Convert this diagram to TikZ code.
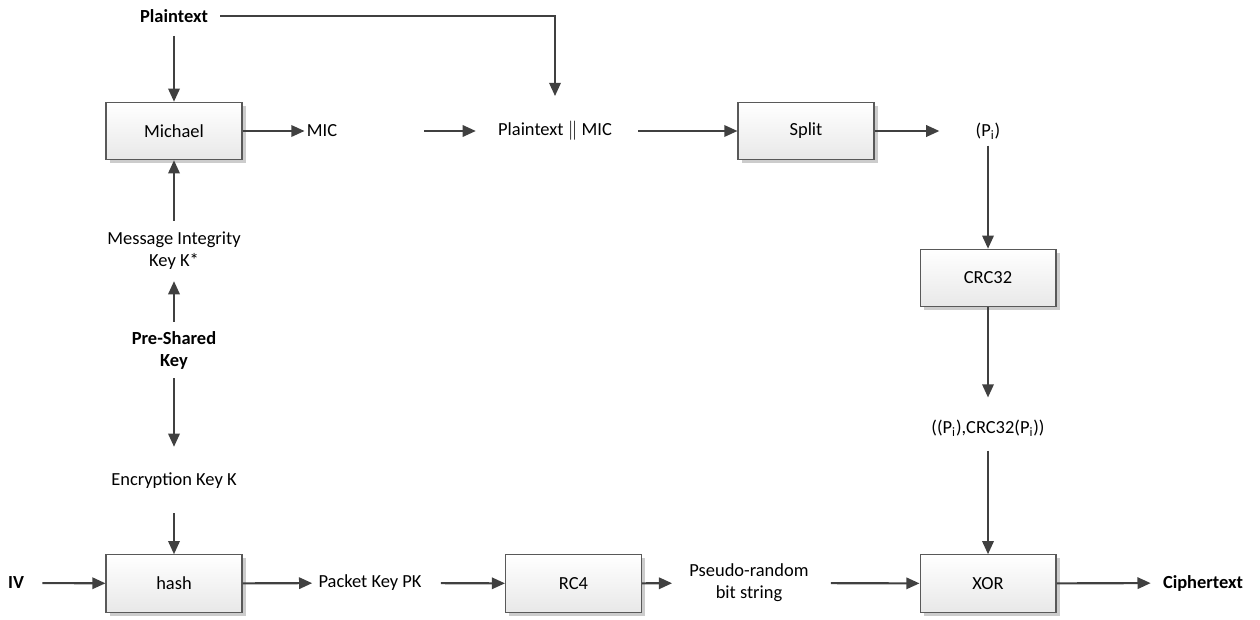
\documentclass[tikz,border=0pt]{standalone}
\usepackage{fontspec}
\setmainfont{Carlito}
\usetikzlibrary{arrows.meta, positioning, shadows}

\definecolor{linegray}{HTML}{404040}
\definecolor{boxline}{HTML}{595959}

\begin{document}
\begin{tikzpicture}[x=0.02cm,y=-0.02cm,->,>={Triangle[length=7.5pt,width=6.5pt]},
    font=\fontsize{10.5}{12.5}\selectfont,
    link/.style={draw=linegray, line width=1.2pt},
    block/.style={draw=boxline, line width=0.6pt, top color=white, bottom color=gray!18,
        minimum width=2.72cm, minimum height=1.15cm,
        drop shadow={shadow xshift=2pt, shadow yshift=-2pt, fill=gray!40, opacity=1}},
    lbl/.style={inner sep=0pt, align=center},
    bold/.style={lbl, font=\fontsize{10.5}{12.5}\selectfont\bfseries}]
    \useasboundingbox (0,0) rectangle (1260,619);

    \node[bold]  (plain)  at (174,16)    {Plaintext};
    \node[block] (michael) at (174,131)  {Michael};
    \node[lbl]   (mic)    at (322,131)   {MIC};
    \node[lbl]   (ptmic)  at (555,131)   {Plaintext $\|$ MIC};
    \node[block] (split)  at (806,131)   {Split};
    \node[lbl]   (pi)     at (988,131)   {(P\textsubscript{i})};
    \node[block] (crc)    at (988,278)   {CRC32};
    \node[lbl]   (pcrc)   at (988,428)   {((P\textsubscript{i}),CRC32(P\textsubscript{i}))};
    \node[block] (xor)    at (988,583.5) {XOR};
    \node[bold]  (cipher) at (1203,583)  {Ciphertext};

    \node[lbl]   (mik)    at (174,251)   {Message Integrity\\Key K*};
    \node[bold]  (psk)    at (174,350)   {Pre-Shared\\Key};
    \node[lbl]   (enc)    at (174,481)   {Encryption Key K};

    \node[bold]  (iv)     at (16,583)    {IV};
    \node[block] (hash)   at (174,583.5) {hash};
    \node[lbl]   (pk)     at (370,583)   {Packet Key PK};
    \node[block] (rc4)    at (573.5,583.5) {RC4};
    \node[lbl]   (prbs)   at (749,583)   {Pseudo-random\\bit string};

    % top row
    \draw[link, shorten <=.26cm] (plain) -- (michael);
    \draw[link, shorten <=.24cm, shorten >=.5cm] (plain.east) -| (ptmic.north);
    \draw[link, shorten >=.04cm] (michael) -- (mic);
    \draw[link, shorten <=1.74cm, shorten >=.44cm] (mic) -- (ptmic);
    \draw[link, shorten <=.52cm] (ptmic) -- (split);
    \draw[link, shorten >=.72cm] (split) -- (pi);

    % right column
    \draw[link, shorten <=.12cm] (pi) -- (crc);
    \draw[link, shorten >=.44cm] (crc) -- (pcrc);
    \draw[link, shorten <=.28cm] (pcrc) -- (xor);
    \draw[link, shorten >=.24cm] (xor) -- (cipher);

    % left column
    \draw[link, shorten <=.22cm] (mik) -- (michael);
    \draw[link, shorten <=.18cm, shorten >=.22cm] (psk) -- (mik);
    \draw[link, shorten <=.18cm, shorten >=.52cm] (psk) -- (enc);
    \draw[link, shorten <=.48cm] (enc) -- (hash);

    % bottom row
    \draw[link, shorten <=.36cm] (iv) -- (hash);
    \draw[link, shorten >=.12cm] (hash) -- (pk);
    \draw[link, shorten <=.38cm] (pk) -- (rc4);
    \draw[link, shorten >=.34cm] (rc4) -- (prbs);
    \draw[link, shorten <=.44cm] (prbs) -- (xor);
\end{tikzpicture}
\end{document}
